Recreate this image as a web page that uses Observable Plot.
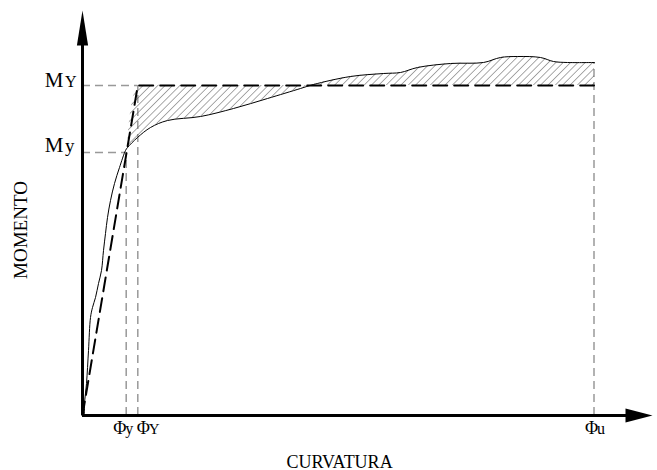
<!DOCTYPE html>
<html>
<head>
<meta charset="utf-8">
<script src="https://cdn.jsdelivr.net/npm/d3@7"></script>
<script src="https://cdn.jsdelivr.net/npm/@observablehq/plot@0.6"></script>
<style>
  html, body { margin: 0; padding: 0; background: #fff; }
</style>
</head>
<body>
<div id="chart"></div>
<script>
// Moment–curvature curve (arbitrary units)
const curvatura = [2, 2, 4, 6, 8, 10, 13, 16, 19, 21, 23, 25, 28, 32, 37, 43, 45, 55, 68, 85, 118, 151, 185, 218, 231, 268, 301, 318, 335, 368, 401, 418, 435, 458, 471, 485, 512];
const momento   = [2, 12, 32, 65, 98, 108, 118, 132, 145, 165, 182, 198, 215, 232, 248, 265, 268, 278, 288, 295, 299, 307, 317, 327, 331, 339, 342, 343, 348, 352, 353, 358, 359, 358, 354, 353, 353];

// Characteristic points
const phi_y = 43.7, phi_Y = 55.3, phi_u = 511.5;
const M_y = 263, M_Y = 330;
const xAxisEnd = 570, yAxisEnd = 405;
const xLabel = "CURVATURA", yLabel = "MOMENTO";

const curve = curvatura.map((x, i) => ({x, y: momento[i]}));
const bilinear = [{x: 0, y: 0}, {x: phi_Y, y: M_Y}, {x: phi_u, y: M_Y}];
const bil = x => Math.min(M_Y, M_Y * x / phi_Y);
const hatch = curve.filter(d => d.x >= 45).map(d => ({x: d.x, y1: d.y, y2: bil(d.x)}));
const endM = momento[momento.length - 1];

const arrowUp = {draw(ctx, size) { const r = Math.sqrt(size / Math.PI); ctx.moveTo(0, 0); ctx.lineTo(-r * 0.16, r); ctx.lineTo(r * 0.16, r); ctx.closePath(); }};
const arrowRight = {draw(ctx, size) { const r = Math.sqrt(size / Math.PI); ctx.moveTo(0, 0); ctx.lineTo(-r, -r * 0.26); ctx.lineTo(-r, r * 0.26); ctx.closePath(); }};

const serif = "Liberation Serif, Times New Roman, serif";
const gray = {stroke: "#999", strokeWidth: 1.5, strokeDasharray: "8,5"};
const lab = {textAnchor: "start", lineAnchor: "bottom", fill: "black"};

// label helper for a big letter followed by a small sub-letter
function pair(xv, yv, big, small, dxBig, dxSmall, dy, fsBig, fsSmall, anchor) {
  return [
    Plot.text([big], {x: xv, y: yv, text: d => d, ...lab, textAnchor: anchor, dx: dxBig, dy, fontSize: fsBig}),
    Plot.text([small], {x: xv, y: yv, text: d => d, ...lab, textAnchor: anchor, dx: dxSmall, dy, fontSize: fsSmall})
  ];
}

const plot = Plot.plot({
  width: 657, height: 470,
  marginLeft: 82, marginRight: 5, marginTop: 10, marginBottom: 55,
  x: {domain: [0, xAxisEnd], axis: null},
  y: {domain: [0, yAxisEnd], axis: null},
  style: {fontFamily: serif, background: "white"},
  marks: [
    // gray dashed reference lines
    Plot.ruleY([M_Y], {x1: 0, x2: phi_Y, ...gray}),
    Plot.ruleY([M_y], {x1: 0, x2: phi_y, ...gray}),
    Plot.ruleX([phi_y], {y1: 0, y2: M_y, ...gray}),
    Plot.ruleX([phi_Y], {y1: 0, y2: M_Y, ...gray}),
    Plot.ruleX([phi_u], {y1: 0, y2: endM, ...gray}),
    // hatched area between curve and bilinear idealisation
    Plot.areaY(hatch, {x: "x", y1: "y1", y2: "y2", fill: "url(#hatch)", curve: "catmull-rom"}),
    // actual curve
    Plot.line(curve, {x: "x", y: "y", stroke: "black", strokeWidth: 1, curve: "catmull-rom"}),
    // bilinear
    Plot.line(bilinear, {x: "x", y: "y", stroke: "black", strokeWidth: 2, strokeDasharray: "14,7"}),
    // axes
    Plot.ruleY([0], {x1: 0, x2: xAxisEnd - 20, stroke: "black", strokeWidth: 3}),
    Plot.ruleX([0], {y1: 0, y2: yAxisEnd - 25, stroke: "black", strokeWidth: 3}),
    Plot.dot([{x: 0, y: yAxisEnd}], {x: "x", y: "y", r: 35, symbol: arrowUp, fill: "black", stroke: "none"}),
    Plot.dot([{x: xAxisEnd, y: 0}], {x: "x", y: "y", r: 27, symbol: arrowRight, fill: "black", stroke: "none"}),
    // moment labels
    ...pair(0, M_Y, "M", "Y", -19, -6, 1, 21, 16, "end"),
    ...pair(0, M_y, "M", "y", -19, -8, -1, 21, 19, "end"),
    // curvature labels
    ...pair(phi_y, 0, "Φ", "y", -13, -1, 18, 18, 16, "start"),
    ...pair(phi_Y, 0, "Φ", "Y", -1, 11, 18, 18, 15, "start"),
    ...pair(phi_u, 0, "Φ", "u", -9, 3, 18, 18, 16, "start"),
    // axis titles
    Plot.text([xLabel], {frameAnchor: "bottom", text: d => d, textAnchor: "middle", dx: -28, dy: 52, lineAnchor: "bottom", fontSize: 18, fill: "black"}),
    Plot.text([yLabel], {frameAnchor: "left", text: d => d, textAnchor: "middle", dx: -62, dy: 17, rotate: -90, lineAnchor: "middle", fontSize: 19, fill: "black"})
  ]
});

// hatch pattern definition
const ns = "http://www.w3.org/2000/svg";
const defs = document.createElementNS(ns, "defs");
defs.innerHTML = '<pattern id="hatch" patternUnits="userSpaceOnUse" width="5.2" height="5.2" patternTransform="rotate(45)"><line x1="0" y1="0" x2="0" y2="5.2" stroke="#555" stroke-width="1"/></pattern>';
plot.insertBefore(defs, plot.firstChild);

document.getElementById("chart").appendChild(plot);
</script>
</body>
</html>
